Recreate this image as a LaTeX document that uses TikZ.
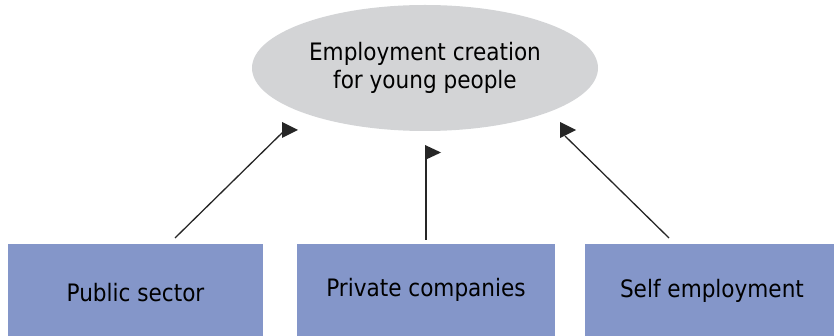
\documentclass[tikz,border=0pt]{standalone}
\usepackage{fontspec}
\setmainfont{DejaVu Sans Condensed}
\usetikzlibrary{shapes.geometric}
\definecolor{boxblue}{RGB}{132,150,201}
\definecolor{ellgrey}{RGB}{211,212,214}
\tikzset{
  sector/.style={rectangle, fill=boxblue, draw=none, inner sep=0pt},
  label/.style={inner sep=0pt, font=\fontsize{24}{28}\selectfont},
  goalnode/.style={ellipse, fill=ellgrey, draw=none, minimum width=346pt, minimum height=126pt, inner sep=0pt, align=center, font=\fontsize{24}{28}\selectfont},
  link/.style={draw=black!85, line width=1.3pt},
  head/.style={fill=black!85, draw=none}
}
\begin{document}
\begin{tikzpicture}[x=1pt,y=-1pt]
\useasboundingbox (0,0) rectangle (834,336);
\node[goalnode] (goal) at (425,68) {Employment creation\\for young people};
\path[sector] (8,244) rectangle (263,336);
\path[sector] (297,244) rectangle (555,336);
\path[sector] (585,244) rectangle (834,336);
\node[label] (pub) at (135.5,293) {Public sector};
\node[label] (priv) at (426,290) {Private companies};
\node[label] (self) at (712,291) {Self employment};
\coordinate (s1) at (175,238);
\coordinate (s2) at (426,240);
\coordinate (s3) at (669,238);
\coordinate (t1) at (284,131);
\coordinate (t2) at (426,146);
\coordinate (t3) at (565,136);
\draw[link] (s1) -- (t1);
\draw[link] (s2) -- (t2);
\draw[link] (s3) -- (t3);
\fill[head] (282,122) -- (298,130) -- (282,138) -- cycle;
\fill[head] (425,145) -- (441,152.5) -- (425,160) -- cycle;
\fill[head] (560,122) -- (576,130) -- (560,138) -- cycle;
\end{tikzpicture}
\end{document}
